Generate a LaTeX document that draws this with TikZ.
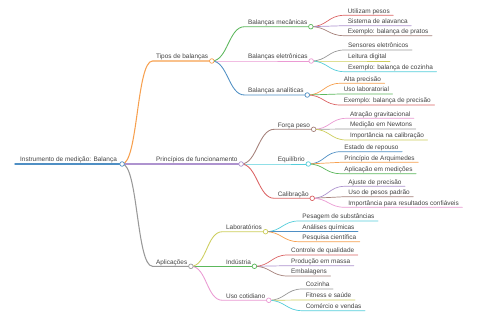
\documentclass[tikz,border=0pt]{standalone}
\usepackage{fontspec}
\setmainfont{Liberation Sans}
\usepackage{tikz}
\usetikzlibrary{positioning}
\definecolor{MapBlue}{HTML}{4F8FC4}
\definecolor{MapOrange}{HTML}{F7A04F}
\definecolor{MapGreen}{HTML}{5CB85C}
\definecolor{MapRed}{HTML}{DC6465}
\definecolor{MapPurple}{HTML}{AE93CF}
\definecolor{MapBrown}{HTML}{A5817A}
\definecolor{MapPink}{HTML}{EB9AD3}
\definecolor{MapGray}{HTML}{999999}
\definecolor{MapOlive}{HTML}{CDCE5C}
\definecolor{MapCyan}{HTML}{55CEDB}
\definecolor{TextGray}{HTML}{444444}
\tikzset{
  topic/.style={anchor=south west, inner xsep=3.4pt, inner ysep=0pt, text depth=1.8pt,
    font=\fontsize{6.45}{7.5}\selectfont, text=TextGray},
  link/.style={draw=#1, line cap=round},
  knob/.style={circle, draw=#1, fill=white, line width=0.7pt, inner sep=0pt, minimum size=4.6pt}
}

\begin{document}
\begin{tikzpicture}[x=1pt, y=-1pt]
\fill[white] (0,0) rectangle (480,320);
\useasboundingbox (0,0) rectangle (480,320);
% root
\node[topic, inner xsep=5pt] (root) at (15,164) {Instrumento de medição: Balança};
\draw[link=MapBlue, line width=1.4pt] (root.south west) -- (root.south east);
% first level
\node[topic] (tipos) at (152.5,61) {Tipos de balanças};
\node[topic] (princ) at (152.5,164) {Princípios de funcionamento};
\node[topic] (aplic) at (152.5,266.3) {Aplicações};
\foreach \nm/\col in {tipos/MapOrange, princ/MapPurple, aplic/MapGray}
  \draw[link=\col, line width=1.05pt] (root.south east) .. controls +(16,0) and +(-16,0) .. (\nm.south west) -- (\nm.south east);
% second level
\node[topic] (mec) at (244.5,26.7) {Balanças mecânicas};
\node[topic] (ele) at (244.5,61) {Balanças eletrônicas};
\node[topic] (ana) at (244.5,95) {Balanças analíticas};
\node[topic] (forca) at (274.2,129.3) {Força peso};
\node[topic] (equi) at (274.2,164) {Equilíbrio};
\node[topic] (calib) at (274.2,198.3) {Calibração};
\node[topic] (lab) at (222.5,231.7) {Laboratórios};
\node[topic] (ind) at (222.5,266.3) {Indústria};
\node[topic] (uso) at (222.5,300.3) {Uso cotidiano};
\foreach \up/\nm/\col in {tipos/mec/MapGreen, tipos/ele/MapPink, tipos/ana/MapBlue,
    princ/forca/MapBrown, princ/equi/MapCyan, princ/calib/MapRed,
    aplic/lab/MapOlive, aplic/ind/MapGreen, aplic/uso/MapPink}
  \draw[link=\col, line width=0.85pt] (\up.south east) .. controls +(16,0) and +(-16,0) .. (\nm.south west) -- (\nm.south east);
% leaves
\foreach \up/\nm/\x/\y/\col/\txt in {
    mec/ma/344.2/15.3/MapRed/Utilizam pesos,
    mec/mb/344.2/25.7/MapPurple/Sistema de alavanca,
    mec/mc/344.2/35.7/MapBrown/Exemplo: balança de pratos,
    ele/ea/344.5/50/MapGray/Sensores eletrônicos,
    ele/eb/344.5/61/MapOlive/Leitura digital,
    ele/ec/344.5/71.7/MapCyan/Exemplo: balança de cozinha,
    ana/aa/340.2/83.3/MapOrange/Alta precisão,
    ana/ab/340.2/94/MapGreen/Uso laboratorial,
    ana/ac/340.2/105/MapRed/Exemplo: balança de precisão,
    forca/fa/346.5/118.3/MapPink/Atração gravitacional,
    forca/fb/346.5/129/MapGray/Medição em Newtons,
    forca/fc/346.5/140/MapOlive/Importância na calibração,
    equi/qa/340.8/151.7/MapBlue/Estado de repouso,
    equi/qb/340.8/162.3/MapOrange/Princípio de Arquimedes,
    equi/qc/340.8/173.7/MapGreen/Aplicação em medições,
    calib/ca/344.8/186.3/MapPurple/Ajuste de precisão,
    calib/cb/344.8/196.7/MapBrown/Uso de pesos padrão,
    calib/cc/344.8/207.3/MapPink/Importância para resultados confiáveis,
    lab/la/298.8/221/MapCyan/Pesagem de substâncias,
    lab/lb/298.8/231.7/MapBlue/Análises químicas,
    lab/lc/298.8/241.7/MapOrange/Pesquisa científica,
    ind/ia/287.5/255/MapRed/Controle de qualidade,
    ind/ib/287.5/265.7/MapPurple/Produção em massa,
    ind/ic/287.5/276/MapBrown/Embalagens,
    uso/ua/302.2/289/MapGray/Cozinha,
    uso/ub/302.2/300/MapOlive/Fitness e saúde,
    uso/uc/302.2/310.7/MapCyan/Comércio e vendas}
{
  \node[topic] (\nm) at (\x,\y) {\txt};
  \draw[link=\col, line width=0.7pt] (\up.south east) .. controls +(16,0) and +(-16,0) .. (\nm.south west) -- (\nm.south east);
}
% knobs on the branching topics
\foreach \nm/\col in {root/MapBlue, tipos/MapOrange, princ/MapPurple, aplic/MapGray,
    mec/MapGreen, ele/MapPink, ana/MapBlue, forca/MapBrown, equi/MapCyan,
    calib/MapRed, lab/MapOlive, ind/MapGreen, uso/MapPink}
  \node[knob=\col] (\nm-k) at (\nm.south east) {};
\end{tikzpicture}
\end{document}
